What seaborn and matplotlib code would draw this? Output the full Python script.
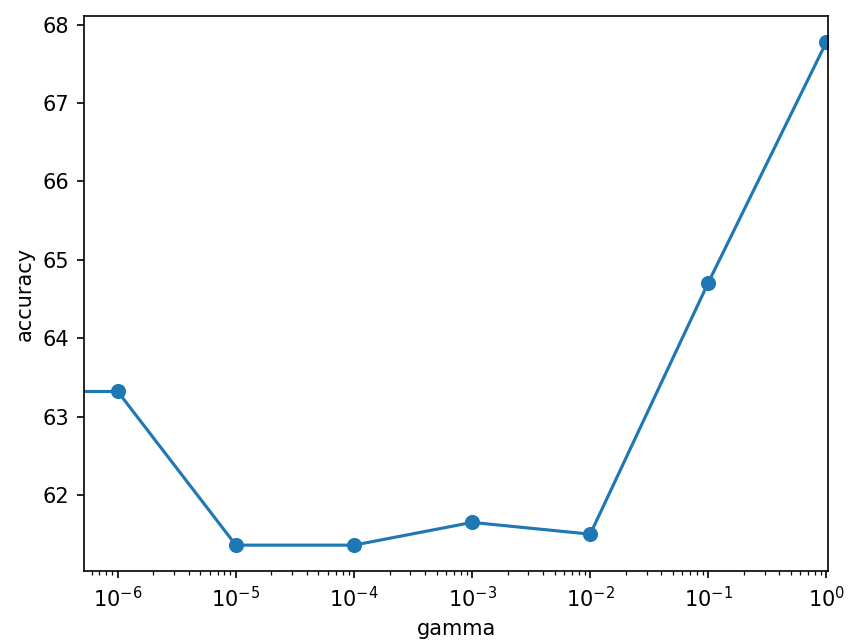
import matplotlib
matplotlib.use("Agg")
import matplotlib.pyplot as plt
import seaborn as sns
import pandas as pd

gamma = [1e-7, 1e-6, 1e-5, 1e-4, 1e-3, 1e-2, 1e-1, 1e0]
accuracy = [63.32, 63.32, 61.36, 61.36, 61.65, 61.50, 64.71, 67.78]

plt.rcParams['font.family'] = ['DejaVu Sans']

df = pd.DataFrame({"gamma": gamma, "accuracy": accuracy})

dpi = 150
fig = plt.figure(figsize=(865 / dpi, 642 / dpi), dpi=dpi)
ax = fig.add_axes([84 / 865, 71 / 642, 744 / 865, 555 / 642])
sns.lineplot(data=df, x="gamma", y="accuracy", ax=ax, color="#1f77b4",
             marker="o", markersize=6.5, markeredgecolor="#1f77b4",
             linewidth=1.5)
ax.set_xscale("log")
ax.set_xlim(5.18e-7, 1.03)
ax.set_ylim(61.03, 68.11)
ax.set_xlabel("gamma")
ax.set_ylabel("accuracy")
fig.savefig("out.png", dpi=dpi)
